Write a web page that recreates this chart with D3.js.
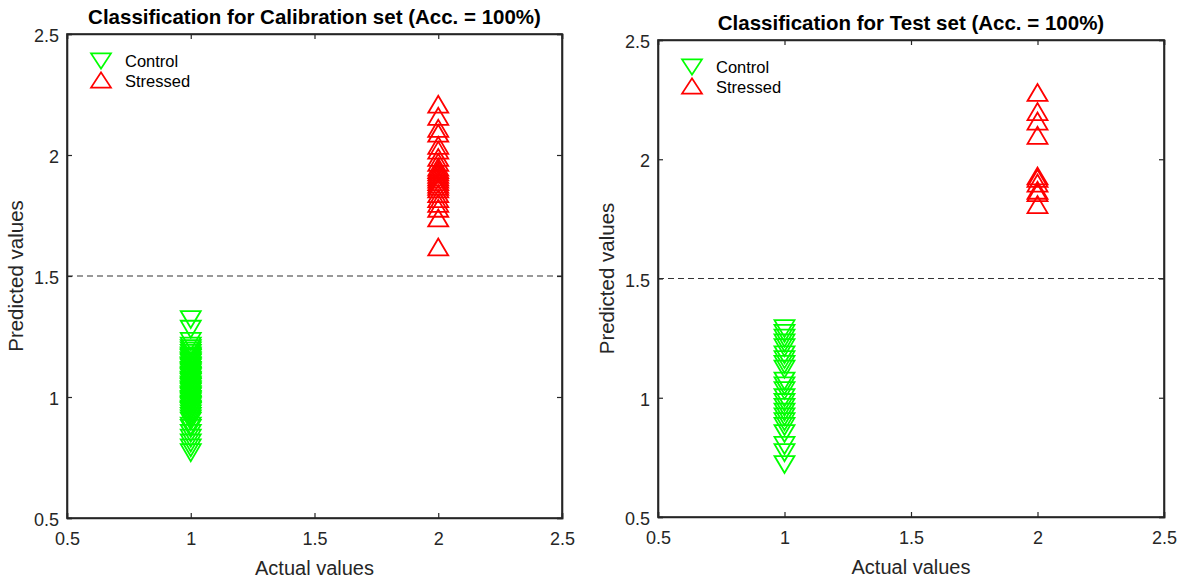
<!DOCTYPE html>
<html>
<head>
<meta charset="utf-8">
<script src="https://cdn.jsdelivr.net/npm/d3@7"></script>
<style>
  body { margin: 0; background: #fff; }
  svg { display: block; font-family: Arial, 'Liberation Sans', sans-serif; }
</style>
</head>
<body>
<svg id="chart" width="1189" height="582"></svg>
<script>
// calibration set predictions
const calControl = [1.32, 1.28, 1.23, 1.21, 1.20, 1.19, 1.18, 1.17, 1.165, 1.16, 1.15, 1.145,
  1.14, 1.13, 1.125, 1.12, 1.11, 1.105, 1.10, 1.09, 1.085, 1.08, 1.07, 1.065, 1.06, 1.05,
  1.045, 1.04, 1.03, 1.025, 1.02, 1.01, 1.005, 1.00, 0.99, 0.985, 0.98, 0.97, 0.965, 0.96,
  0.95, 0.945, 0.94, 0.93, 0.92, 0.91, 0.90, 0.88, 0.87, 0.85, 0.83, 0.81, 0.79, 0.77]
const calStressed = [2.21, 2.16, 2.11, 2.09, 2.04, 2.02, 1.99, 1.97, 1.95, 1.94, 1.93, 1.92,
  1.91, 1.90, 1.89, 1.88, 1.87, 1.86, 1.84, 1.82, 1.80, 1.78, 1.74, 1.62]

// test set predictions
const testControl = [1.29, 1.27, 1.25, 1.23, 1.21, 1.18, 1.16, 1.14, 1.12, 1.07, 1.05, 1.03,
  1.00, 0.98, 0.96, 0.94, 0.92, 0.90, 0.88, 0.85, 0.80, 0.77, 0.72]
const testStressed = [2.28, 2.20, 2.16, 2.10, 1.93, 1.92, 1.90, 1.87, 1.86, 1.81]

const classLabels = ['Control', 'Stressed']
const classActual = [1, 2]
const ticks = [0.5, 1, 1.5, 2, 2.5]
const threshold = 1.5

const panels = [
  { title: 'Classification for Calibration set (Acc. = 100%)', control: calControl, stressed: calStressed,
    x0: 67, x1: 562, y0: 34, y1: 518 },
  { title: 'Classification for Test set (Acc. = 100%)', control: testControl, stressed: testStressed,
    x0: 658, x1: 1164, y0: 40, y1: 517 },
]

const colors = ['#00ff00', '#ff0000']
const axisColor = '#262626'

const downTri = 'M-10,-8.5L10,-8.5L0,8.5Z'
const upTri = 'M-10,8.5L10,8.5L0,-8.5Z'

const svg = d3.select('#chart')

const drawPanel = (p) => {
  const x = d3.scaleLinear().domain([0.5, 2.5]).range([p.x0, p.x1])
  const y = d3.scaleLinear().domain([0.5, 2.5]).range([p.y1, p.y0])
  const g = svg.append('g')

  // threshold line
  g.append('line')
    .attr('x1', x(0.5)).attr('x2', x(2.5))
    .attr('y1', y(threshold)).attr('y2', y(threshold))
    .attr('stroke', '#333').attr('stroke-width', 1)
    .attr('stroke-dasharray', '6,4')

  const series = [p.control, p.stressed]
  series.forEach((vals, i) => {
    g.append('g').selectAll('path')
      .data(vals)
      .enter()
      .append('path')
      .attr('d', i === 0 ? downTri : upTri)
      .attr('transform', (d) => `translate(${x(classActual[i])},${y(d)})`)
      .attr('fill', 'none')
      .attr('stroke', colors[i])
      .attr('stroke-width', 1.8)
  })

  // axes with inward ticks
  const bottom = g.append('g').attr('transform', `translate(0,${p.y1})`)
    .call(d3.axisBottom(x).tickValues(ticks).tickSize(-5).tickPadding(10).tickFormat(d3.format('')))
  const left = g.append('g').attr('transform', `translate(${p.x0},0)`)
    .call(d3.axisLeft(y).tickValues(ticks).tickSize(-5).tickPadding(8).tickFormat(d3.format('')))
  g.append('g').attr('transform', `translate(0,${p.y0})`)
    .call(d3.axisTop(x).tickValues(ticks).tickSize(-5).tickFormat(''))
  g.append('g').attr('transform', `translate(${p.x1},0)`)
    .call(d3.axisRight(y).tickValues(ticks).tickSize(-5).tickFormat(''))

  g.selectAll('.domain').attr('stroke', axisColor).attr('stroke-width', 1.6)
  g.selectAll('.tick line').attr('stroke', axisColor).attr('stroke-width', 1.2)
  g.selectAll('.tick text').attr('fill', axisColor).style('font-size', '18px')
    .style('font-family', 'Arial, "Liberation Sans", sans-serif')
  bottom.selectAll('.tick text').attr('dy', '0.95em')
  left.selectAll('.tick text').attr('dy', '0.42em')

  // frame on top of everything
  g.append('rect')
    .attr('x', p.x0).attr('y', p.y0)
    .attr('width', p.x1 - p.x0).attr('height', p.y1 - p.y0)
    .attr('fill', 'none').attr('stroke', axisColor).attr('stroke-width', 1.6)

  g.append('text')
    .attr('x', (p.x0 + p.x1) / 2).attr('y', p.y0 - 10)
    .attr('text-anchor', 'middle')
    .style('font-size', '20.5px').style('font-weight', 'bold')
    .attr('fill', '#000')
    .text(p.title)

  g.append('text')
    .attr('x', (p.x0 + p.x1) / 2).attr('y', p.y1 + 57)
    .attr('text-anchor', 'middle')
    .style('font-size', '20px').attr('fill', axisColor)
    .text('Actual values')

  g.append('text')
    .attr('transform', `translate(${p.x0 - 44},${(p.y0 + p.y1) / 2}) rotate(-90)`)
    .attr('text-anchor', 'middle')
    .style('font-size', '20.5px').attr('fill', axisColor)
    .text('Predicted values')

  // legend
  const lg = g.append('g').attr('transform', `translate(${p.x0 + 34},${p.y0 + 27})`)
  classLabels.forEach((label, i) => {
    const row = lg.append('g').attr('transform', `translate(0,${i * 20})`)
    row.append('path')
      .attr('d', i === 0 ? downTri : upTri)
      .attr('transform', i === 0 ? 'scale(1,0.9)' : 'translate(0,-1) scale(1,0.9)')
      .attr('fill', 'none').attr('stroke', colors[i]).attr('stroke-width', 1.8)
    row.append('text')
      .attr('x', 24).attr('y', 0).attr('dy', '0.36em')
      .style('font-size', '16.5px').attr('fill', '#000')
      .text(label)
  })
}

panels.forEach(drawPanel)
</script>
</body>
</html>
